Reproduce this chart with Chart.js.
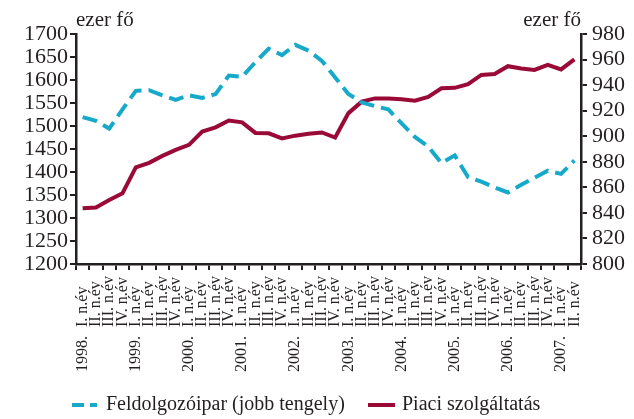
<!DOCTYPE html>
<html>
<head>
<meta charset="utf-8">
<script src="https://cdn.jsdelivr.net/npm/chart.js@4.4.1/dist/chart.umd.min.js"></script>
<style>
  html, body { margin: 0; padding: 0; background: #ffffff; }
  #wrap { width: 634px; height: 419px; position: relative; }
</style>
</head>
<body>
<div id="wrap"><canvas id="c" width="634" height="419"></canvas></div>
<script>
// ---- data ----
const categories = [
  '1998. I. n.év', 'II. n.év', 'III. n.év', 'IV. n.év',
  '1999. I. n.év', 'II. n.év', 'III. n.év', 'IV. n.év',
  '2000. I. n.év', 'II. n.év', 'III. n.év', 'IV. n.év',
  '2001. I. n.év', 'II. n.év', 'III. n.év', 'IV. n.év',
  '2002. I. n.év', 'II. n.év', 'III. n.év', 'IV. n.év',
  '2003. I. n.év', 'II. n.év', 'III. n.év', 'IV. n.év',
  '2004. I. n.év', 'II. n.év', 'III. n.év', 'IV. n.év',
  '2005. I. n.év', 'II. n.év', 'III. n.év', 'IV. n.év',
  '2006. I. n.év', 'II. n.év', 'III. n.év', 'IV. n.év',
  '2007. I. n.év', 'II. n.év'
];
// Feldolgozóipar (right axis)
const feldolgozoipar = [
  915, 912, 906, 921,
  935.5, 936, 932, 928.5,
  932, 930, 933, 947.5,
  946.5, 958, 968.5, 963.5,
  971.5, 967, 959, 946,
  933, 926.5, 923.5, 921,
  910, 899.5, 892, 879,
  885, 868, 864.5, 860,
  856, 862, 867.5, 873,
  870.5, 881
];
// Piaci szolgáltatás (left axis)
const piaciSzolgaltatas = [
  1321, 1323, 1339, 1354,
  1410, 1420, 1435, 1448,
  1459, 1488, 1497, 1512,
  1508, 1485, 1484, 1473,
  1479, 1483, 1486, 1475,
  1528, 1553, 1560, 1560,
  1558, 1555, 1563, 1582,
  1583, 1591, 1611, 1613,
  1630, 1625, 1622, 1633,
  1623, 1645
];
const leftTicks = { min: 1200, max: 1700, step: 50 };
const rightTicks = { min: 800, max: 980, step: 20 };
const seriesNames = ['Feldolgozóipar (jobb tengely)', 'Piaci szolgáltatás'];
const unitLabel = 'ezer fő';

// ---- styles ----
const TEXT = '#231f20';
const BLUE = '#17a9c9';
const RED = '#990a37';
const FONT = '"Liberation Serif", "Times New Roman", serif';

const customText = {
  id: 'customText',
  afterDraw(chart) {
    const ctx = chart.ctx;
    const xs = chart.scales.x;
    const area = chart.chartArea;
    ctx.save();
    ctx.fillStyle = TEXT;
    // x labels: quarter labels bottom aligned, year labels below
    const qBottom = area.bottom + 63;
    const yearTop = area.bottom + 72;
    categories.forEach((lab, i) => {
      const x = xs.getPixelForValue(i);
      const m = lab.match(/^(\d{4}\.)\s+(.*)$/);
      const q = m ? m[2] : lab;
      ctx.save();
      ctx.translate(x, qBottom);
      ctx.rotate(-Math.PI / 2);
      ctx.textBaseline = 'middle';
      ctx.font = '16px ' + FONT;
      ctx.textAlign = 'left';
      ctx.fillText(q, 0, 0);
      if (m) {
        ctx.font = '16px ' + FONT;
        ctx.textAlign = 'right';
        ctx.fillText(m[1], -(yearTop - qBottom), 0);
      }
      ctx.restore();
    });
    // unit titles
    ctx.font = '21px ' + FONT;
    ctx.textBaseline = 'alphabetic';
    ctx.textAlign = 'left';
    ctx.fillText(unitLabel, area.left, 26);
    ctx.textAlign = 'right';
    ctx.fillText(unitLabel, area.right, 26);
    // legend
    const ly = 405;
    ctx.lineWidth = 4;
    ctx.lineCap = 'butt';
    ctx.strokeStyle = BLUE;
    ctx.setLineDash([12, 6]);
    ctx.beginPath(); ctx.moveTo(72, ly); ctx.lineTo(97, ly); ctx.stroke();
    ctx.strokeStyle = RED;
    ctx.setLineDash([]);
    ctx.beginPath(); ctx.moveTo(368, ly); ctx.lineTo(395, ly); ctx.stroke();
    ctx.font = '20px ' + FONT;
    ctx.textAlign = 'left';
    ctx.textBaseline = 'middle';
    ctx.fillText(seriesNames[0], 106, ly);
    ctx.fillText(seriesNames[1], 402, ly);
    ctx.restore();
  }
};

const axisGrid = {
  drawOnChartArea: false,
  drawTicks: true,
  tickLength: 6,
  color: TEXT,
  lineWidth: 2
};
const axisBorder = { color: TEXT, width: 2.5 };
const plainNumber = v => String(v);

new Chart(document.getElementById('c'), {
  type: 'line',
  data: {
    labels: categories,
    datasets: [
      {
        label: seriesNames[0],
        data: feldolgozoipar,
        yAxisID: 'yR',
        borderColor: BLUE,
        borderWidth: 4,
        borderDash: [15, 7],
        borderCapStyle: 'butt',
        pointRadius: 0,
        tension: 0,
        fill: false
      },
      {
        label: seriesNames[1],
        data: piaciSzolgaltatas,
        yAxisID: 'yL',
        borderColor: RED,
        borderWidth: 4,
        pointRadius: 0,
        tension: 0,
        fill: false
      }
    ]
  },
  options: {
    responsive: false,
    animation: false,
    layout: { padding: { top: 34, left: 0, right: 0, bottom: 0 } },
    plugins: {
      legend: { display: false },
      tooltip: { enabled: false },
      title: { display: false }
    },
    scales: {
      x: {
        type: 'category',
        offset: true,
        grid: Object.assign({ offset: true }, axisGrid),
        border: axisBorder,
        ticks: { display: false, autoSkip: false },
        afterFit: s => { s.height = 155; }
      },
      yL: {
        type: 'linear',
        position: 'left',
        min: leftTicks.min,
        max: leftTicks.max,
        grid: axisGrid,
        border: axisBorder,
        ticks: {
          stepSize: leftTicks.step,
          autoSkip: false,
          color: TEXT,
          padding: 2,
          callback: plainNumber,
          font: { family: FONT, size: 22, lineHeight: 1 }
        },
        afterFit: s => { s.width = 76; }
      },
      yR: {
        type: 'linear',
        position: 'right',
        min: rightTicks.min,
        max: rightTicks.max,
        grid: axisGrid,
        border: axisBorder,
        ticks: {
          stepSize: rightTicks.step,
          autoSkip: false,
          color: TEXT,
          padding: 5,
          callback: plainNumber,
          font: { family: FONT, size: 22, lineHeight: 1 }
        },
        afterFit: s => { s.width = 53; }
      }
    }
  },
  plugins: [customText]
});
</script>
</body>
</html>
